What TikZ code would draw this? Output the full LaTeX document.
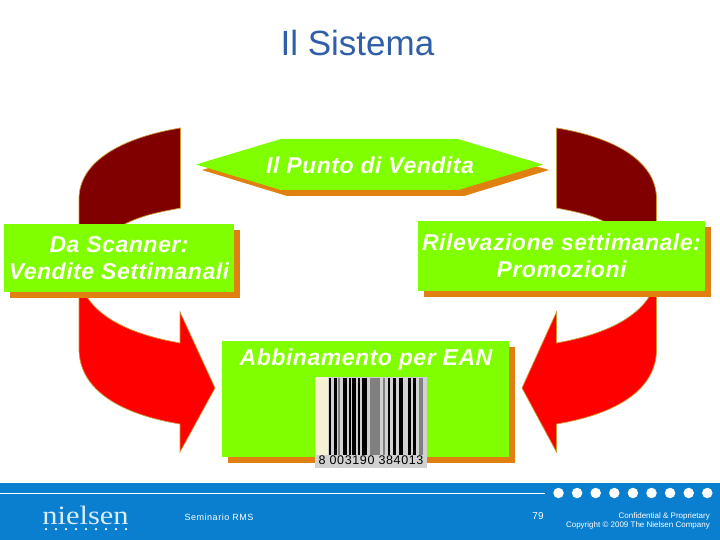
\documentclass[tikz,border=0pt]{standalone}
\usepackage{fontspec}
\setmainfont{Liberation Sans}
\newfontfamily\logofont[FakeStretch=1.15]{Liberation Serif}
\usetikzlibrary{shadows}
\definecolor{lime}{HTML}{80FF00}
\definecolor{rust}{HTML}{E08010}
\definecolor{maroon}{HTML}{800000}
\definecolor{edging}{HTML}{CC9933}
\definecolor{footblue}{HTML}{0A7FCF}
\definecolor{titleblue}{HTML}{2F5FA8}
\definecolor{cream}{HTML}{F6F1D2}
\tikzset{
	curved/.style={draw=edging,line width=0.7pt},
	greenlabel/.style={inner sep=0pt,text=white!96!yellow,align=center,
		font=\fontsize{23}{26.5}\selectfont\bfseries\itshape\addfontfeature{LetterSpace=2.3}},
	greenbox/.style={greenlabel,fill=lime,
		drop shadow={shadow xshift=6pt,shadow yshift=-6pt,fill=rust,opacity=1}},
	footnote/.style={text=white,inner sep=0pt},
	whitedot/.style={circle,fill=white,inner sep=0pt,minimum size=10.5pt},
	logodot/.style={circle,fill=white,inner sep=0pt,minimum size=2.5pt}
}

\begin{document}
\begin{tikzpicture}[x=1pt,y=-1pt]
	\useasboundingbox (0,0) rectangle (720,540);

	\node (title) at (357.5,43) [text=titleblue,font=\fontsize{35}{38}\selectfont] {Il Sistema};

	\draw [curved,fill=maroon] (180.5,128) .. controls (125,137) and (79,160) .. (79,199) -- (79,230) -- (115,230) .. controls (135,216) and (160,212) .. (180.5,208) -- cycle;
	\draw [curved,fill=maroon] (556.5,128) .. controls (612,137) and (656.5,160) .. (656.5,199) -- (656.5,230) -- (618,230) .. controls (600,216) and (577,212) .. (556.5,208) -- cycle;

	\draw [curved,fill=red] (79,292) -- (84,292) .. controls (100,322) and (140,336) .. (180,343) -- (180,312) -- (215,388) -- (180,452) -- (180,424) .. controls (120,414) and (80,390) .. (79,350) -- cycle;
	\draw [curved,fill=red] (656.5,292) -- (652,292) .. controls (636,322) and (596,336) .. (556.5,343) -- (556.5,312) -- (522,388) -- (556.5,452) -- (556.5,424) .. controls (616,414) and (656,390) .. (656.5,350) -- cycle;

	\fill [rust] (202,170) -- (287,196) -- (464,196) -- (549,170) -- (464,145) -- (287,145) -- cycle;
	\fill [lime] (196,164.5) -- (281,139) -- (458,139) -- (543,164.5) -- (458,190) -- (281,190) -- cycle;
	\node (vendita) at (370,165) [greenlabel] {Il Punto di Vendita};

	\node (scanner) at (119,258) [greenbox,minimum width=230pt,minimum height=68pt] {Da Scanner:\\Vendite Settimanali};
	\node (rilevazione) at (561.5,256) [greenbox,minimum width=287pt,minimum height=70pt] {Rilevazione settimanale:\\Promozioni};
	\node (ean) at (365.5,399) [greenbox,minimum width=287pt,minimum height=116pt] {};
	\node (abbinamento) at (366,360) [greenlabel] {Abbinamento per EAN};

	\fill [black!18] (315,377) rectangle (427,468);
	\fill [cream] (315,377) rectangle (328,455);
	\foreach \barx/\barw/\barc in {329/2/black,334/2.5/black,338/2/gray,343/3.5/black,348.5/2.5/black,352/4/black,358/2/black,362/4.5/black,370/10/gray,383/2/gray,388/2/black,392.5/3/black,399/3.5/black,408/2.5/black,412.5/3/black,419/4/gray}
		\fill [\barc] (\barx,378) rectangle +(\barw,77);
	\node (digits) at (371,460.5) [inner sep=0pt,text=black,font=\fontsize{12.5}{13}\selectfont\addfontfeature{LetterSpace=5}] {8 003190 384013};

	\fill [footblue] (0,483) rectangle (720,540);
	\draw [white,line width=0.8pt] (0,493) -- (545,493);
	\foreach \i in {0,...,8}
		\node (bigdot\i) at (558.5+18.6*\i,493) [whitedot] {};
	\node (logo) at (85.5,515) [text=white!85!footblue,inner sep=0pt,font=\fontsize{26.5}{28}\selectfont\logofont] {nielsen};
	\foreach \i in {0,...,8}
		\node (smalldot\i) at (46+10*\i,529) [logodot] {};

	\node (seminario) at (219,517) [footnote,font=\fontsize{9}{10}\selectfont\addfontfeature{LetterSpace=6}] {Seminario RMS};
	\node (pagina) at (538,516.5) [footnote,font=\fontsize{10}{11}\selectfont] {79};
	\node (confidential) at (710,516) [footnote,anchor=east,font=\fontsize{8}{9}\selectfont] {Confidential \& Proprietary};
	\node (copyright) at (710,525) [footnote,anchor=east,font=\fontsize{8}{9}\selectfont] {Copyright © 2009 The Nielsen Company};
\end{tikzpicture}
\end{document}
